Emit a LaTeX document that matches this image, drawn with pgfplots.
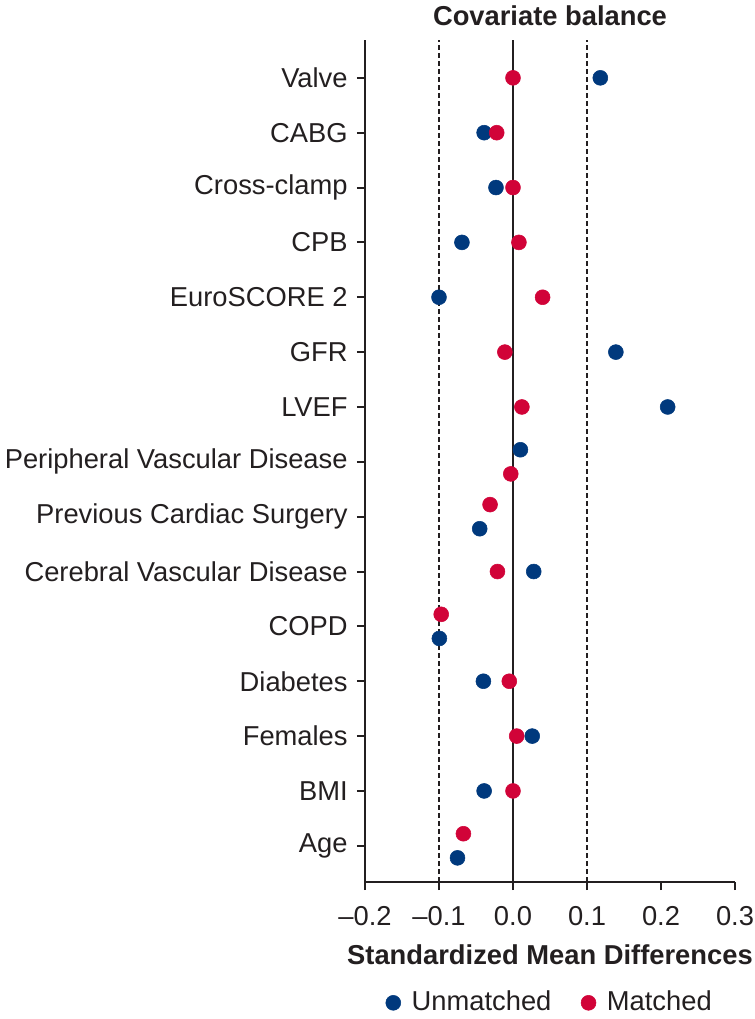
\documentclass[border=0pt]{standalone}
\usepackage{fontspec}
\setmainfont{Liberation Sans}
\usepackage{pgfplots}
\pgfplotsset{compat=1.18}
\definecolor{navy}{RGB}{0,57,125}
\definecolor{crimson}{RGB}{209,3,56}
\definecolor{ink}{RGB}{35,31,32}
\begin{document}
\fontsize{20.5}{24}\selectfont
\begin{tikzpicture}
\begin{axis}[
  at={(0,0)}, anchor=south west,
  scale only axis, width=277.5pt, height=631.5pt,
  xmin=-0.2, xmax=0.3, ymin=0.34, ymax=15.69,
  axis x line*=bottom, axis y line*=left,
  axis line style={ink, line width=1.8pt, -},
  xtick={-0.2,-0.1,0,0.1,0.2,0.3},
  xticklabels={–0.2,–0.1,0.0,0.1,0.2,0.3},
  ytick={1,...,15},
  yticklabels={Age,BMI,Females,Diabetes,COPD,Cerebral Vascular Disease,Previous Cardiac Surgery,Peripheral Vascular Disease,LVEF,GFR,EuroSCORE 2,CPB,Cross-clamp,CABG,Valve},
  tick align=outside, major tick length=6pt,
  tick style={ink, line width=1.5pt},
  ticklabel style={font=\fontsize{20.5}{24}\selectfont, text=ink},
  xticklabel style={yshift=-5pt},
  title={\bfseries Covariate balance},
  title style={at={(axis description cs:0.5,1)}, anchor=center, yshift=12.5pt, text=ink, font=\fontsize{20.5}{24}\selectfont},
  xlabel={\bfseries Standardized Mean Differences},
  xlabel style={at={(axis description cs:0.5,-0.0867)}, anchor=center, text=ink, font=\fontsize{20.5}{24}\selectfont},
  legend style={at={(axis description cs:0.5,-0.1435)}, anchor=center, draw=none, fill=none,
    text=ink, font=\fontsize{20.5}{24}\selectfont,
    /tikz/every even column/.append style={column sep=20pt}},
  legend columns=2,
  legend image code/.code={\fill[#1] (0pt,0pt) circle (5.6pt); \path (11.6pt,0pt);},
]
\addplot[forget plot, ink, line width=1.5pt] coordinates {(0,0.34) (0,15.69)};
\addplot[forget plot, ink, line width=1.5pt, dash pattern=on 3.75pt off 2.25pt] coordinates {(-0.1,0.34) (-0.1,15.69)};
\addplot[forget plot, ink, line width=1.5pt, dash pattern=on 3.75pt off 2.25pt] coordinates {(0.1,0.34) (0.1,15.69)};
% Unmatched
\addplot[only marks, mark=*, mark size=5.6pt, color=navy] coordinates {
  (0.118,15) (-0.039,14) (-0.023,13) (-0.069,12) (-0.100,11)
  (0.139,10) (0.209,9) (0.010,8.22) (-0.045,6.78) (0.028,6)
  (-0.0995,4.78) (-0.040,4) (0.026,3) (-0.039,2) (-0.075,0.78)
};
\addlegendentry{Unmatched}
% Matched
\addplot[only marks, mark=*, mark size=5.6pt, color=crimson] coordinates {
  (0.0,15) (-0.022,14) (0.0,13) (0.008,12) (0.040,11)
  (-0.011,10) (0.012,9) (-0.003,7.78) (-0.031,7.22) (-0.021,6)
  (-0.097,5.22) (-0.005,4) (0.005,3) (0.0,2) (-0.067,1.22)
};
\addlegendentry{Matched}
\end{axis}
\pgfresetboundingbox
\path[use as bounding box] (-273.75pt,-102.75pt) rectangle (292.5pt,661.5pt);
\end{tikzpicture}
\end{document}
